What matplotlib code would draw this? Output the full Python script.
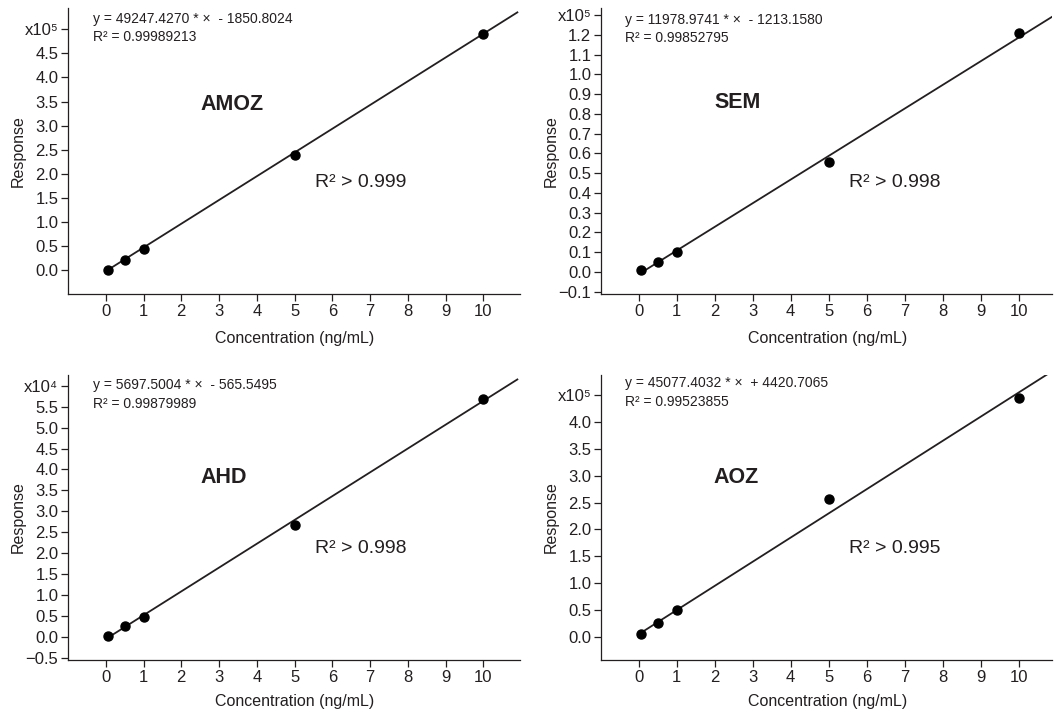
import numpy as np
import matplotlib
matplotlib.use("Agg")
import matplotlib.pyplot as plt

plt.rcParams["font.family"] = ["Liberation Sans", "DejaVu Sans"]

# ----- data -----
conc = [0.05, 0.5, 1, 5, 10]

names = ["AMOZ", "SEM", "AHD", "AOZ"]
responses = [
    [0, 21000, 45000, 239000, 490000],
    [700, 5200, 10300, 55600, 121100],
    [240, 2600, 4800, 26600, 56900],
    [4400, 25500, 50400, 256000, 446000],
]
slopes = [49247.4270, 11978.9741, 5697.5004, 45077.4032]
intercepts = [-1850.8024, -1213.1580, -565.5495, 4420.7065]
r2_values = ["0.99989213", "0.99852795", "0.99879989", "0.99523855"]
r2_limits = ["0.999", "0.998", "0.998", "0.995"]
exponents = [5, 5, 4, 5]
ytick_lists = [
    np.arange(0, 5.01, 0.5),
    np.arange(-0.1, 1.31, 0.1),
    np.arange(-0.5, 6.01, 0.5),
    np.arange(0, 4.51, 0.5),
]
xticks = list(range(11))

# ----- layout (pixels) -----
W, H = 1057, 715
boxes = [(68, 8, 520, 294), (601, 8, 1052, 294), (68, 375, 520, 660), (601, 375, 1052, 660)]
ylims = [(-0.49, 5.44), (-0.112, 1.336), (-0.558, 6.26), (-0.435, 4.88)]
xlims = [(-1, 10.97), (-0.99, 10.88), (-1, 10.97), (-0.99, 10.88)]
name_pos = [(0.292, 0.664), (0.251, 0.668), (0.292, 0.641), (0.250, 0.641)]
r2_pos = [(0.546, 0.389), (0.550, 0.389), (0.546, 0.392), (0.550, 0.392)]
eq_pos = [(0.055, 0.960, 0.897), (0.054, 0.958, 0.895), (0.055, 0.965, 0.900), (0.054, 0.973, 0.904)]
xlab_y = [-0.155, -0.155, -0.146, -0.146]

ink = "#231f20"
fig = plt.figure(figsize=(W / 100, H / 100), dpi=100)

for i in range(4):
    l, t, r, b = boxes[i]
    ax = fig.add_axes([l / W, 1 - b / H, (r - l) / W, (b - t) / H])
    scale = 10 ** exponents[i]
    y = np.array(responses[i]) / scale

    xl = np.array([conc[0], 10.9])
    ax.plot(xl, (slopes[i] * xl + intercepts[i]) / scale, color=ink, lw=1.3)
    ax.plot(conc, y, "o", color="black", ms=6.5, zorder=3)

    ax.set_xlim(*xlims[i])
    ax.set_ylim(*ylims[i])
    ax.set_xticks(xticks)
    ax.set_xticklabels([str(v) for v in xticks])
    yt = ytick_lists[i]
    ax.set_yticks(yt)
    labels = ["{:.1f}".format(v).replace("-", "\u2212") for v in yt]
    labels = ["0.0" if lab == "\u22120.0" else lab for lab in labels]
    labels[-1] = "x10" + ("\u2075" if exponents[i] == 5 else "\u2074")
    ax.set_yticklabels(labels)

    for s in ["top", "right"]:
        ax.spines[s].set_visible(False)
    for s in ["left", "bottom"]:
        ax.spines[s].set_linewidth(0.9)
        ax.spines[s].set_color(ink)
    ax.tick_params(axis="both", direction="out", length=5, width=0.9, colors=ink,
                   labelsize=12, pad=2)
    ax.set_xlabel("Concentration (ng/mL)", fontsize=11.5, color=ink, va="center")
    ax.set_ylabel("Response", fontsize=11.5, color=ink, va="center")
    ax.xaxis.set_label_coords(0.502, xlab_y[i])
    ax.yaxis.set_label_coords(-0.111, 0.5)

    ex, ey1, ey2 = eq_pos[i]
    sign = "-" if intercepts[i] < 0 else "+"
    eq = "y = {:.4f} * \u00d7  {} {:.4f}".format(slopes[i], sign, abs(intercepts[i]))
    ax.text(ex, ey1, eq, transform=ax.transAxes, fontsize=10, color=ink, va="center")
    ax.text(ex, ey2, "R\u00b2 = " + r2_values[i], transform=ax.transAxes, fontsize=10,
            color=ink, va="center")

    nx, ny = name_pos[i]
    ax.text(nx, ny, names[i], transform=ax.transAxes, fontsize=15.5, fontweight="bold",
            color=ink, va="center")
    rx, ry = r2_pos[i]
    ax.text(rx, ry, "R\u00b2 > " + r2_limits[i], transform=ax.transAxes, fontsize=14,
            color=ink, va="center")

fig.savefig("out.png", dpi=100)
